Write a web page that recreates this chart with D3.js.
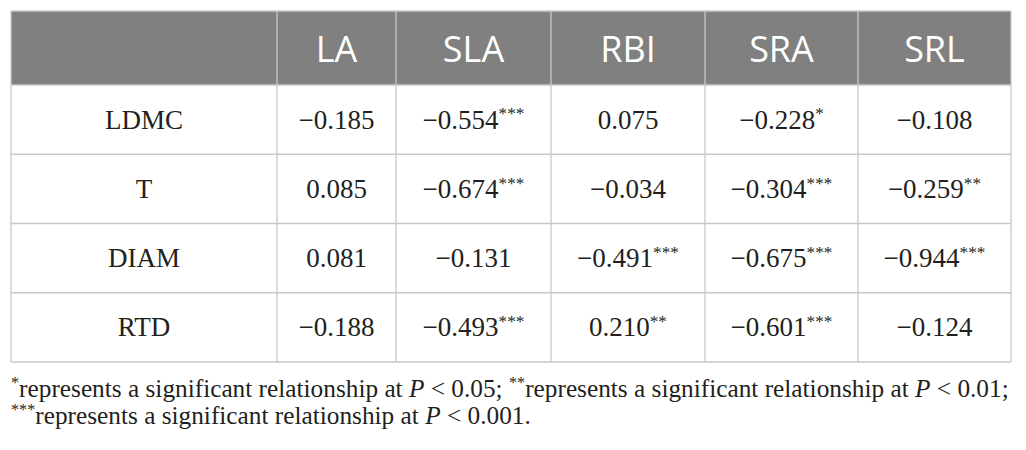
<!DOCTYPE html>
<html>
<head>
<meta charset="utf-8">
<script src="https://cdn.jsdelivr.net/npm/d3@7"></script>
<style>
  html, body { margin: 0; padding: 0; background: #ffffff; }
  svg { display: block; }
</style>
</head>
<body>
<svg id="chart" width="1026" height="450"></svg>
<script>
// ---- data ----
const columns = ["LA", "SLA", "RBI", "SRA", "SRL"];
const rows = ["LDMC", "T", "DIAM", "RTD"];
const LDMC = [-0.185, -0.554, 0.075, -0.228, -0.108];
const T    = [0.085, -0.674, -0.034, -0.304, -0.259];
const DIAM = [0.081, -0.131, -0.491, -0.675, -0.944];
const RTD  = [-0.188, -0.493, 0.210, -0.601, -0.124];
// significance stars count per cell
const LDMC_sig = [0, 3, 0, 1, 0];
const T_sig    = [0, 3, 0, 3, 2];
const DIAM_sig = [0, 0, 3, 3, 3];
const RTD_sig  = [0, 3, 2, 3, 0];
const footnoteLines = [
  [["*", "sup"], ["represents a significant relationship at ", ""], ["P", "it"], [" < 0.05; ", ""],
   ["**", "sup"], ["represents a significant relationship at ", ""], ["P", "it"], [" < 0.01;", ""]],
  [["***", "sup"], ["represents a significant relationship at ", ""], ["P", "it"], [" < 0.001.", ""]]
];

const values = [LDMC, T, DIAM, RTD];
const sigs = [LDMC_sig, T_sig, DIAM_sig, RTD_sig];

// ---- layout ----
const leftX = 11, topY = 11, headerH = 74, tableBottom = 362;
const firstColW = 266;
const colWidths = [119, 155, 154, 153, 153];
const gridColor = "#c8c8c8";
const headFill = "#808080";
const serif = "'Liberation Serif', 'Times New Roman', serif";
const sans = "'Open Sans', 'Noto Sans', sans-serif";
const bodySize = 27, headSize = 36, noteSize = 25.3;

const svg = d3.select("#chart");

// column edges via scale
const edges = [leftX + firstColW];
colWidths.forEach((w, i) => edges.push(edges[i] + w));
const rightX = edges[edges.length - 1];
const xCol = d3.scaleOrdinal().domain(columns).range(edges.slice(0, -1));
const wCol = d3.scaleOrdinal().domain(columns).range(colWidths);
const yRow = d3.scaleBand().domain(rows).range([topY + headerH, tableBottom]).padding(0);

const fmt = d3.format(".3f");

// header background
svg.append("rect")
  .attr("x", leftX).attr("y", topY)
  .attr("width", rightX - leftX).attr("height", headerH)
  .attr("fill", headFill);

// header labels
svg.append("g").selectAll("text").data(columns).join("text")
  .attr("x", d => xCol(d) + wCol(d) / 2)
  .attr("y", topY + headerH / 2 + 14)
  .attr("text-anchor", "middle")
  .attr("font-family", sans)
  .attr("font-size", headSize)
  .attr("fill", "#ffffff")
  .text(d => d);

// row labels
svg.append("g").selectAll("text").data(rows).join("text")
  .attr("x", leftX + firstColW / 2)
  .attr("y", d => yRow(d) + yRow.bandwidth() / 2 + bodySize * 0.66 / 2)
  .attr("text-anchor", "middle")
  .attr("font-family", serif)
  .attr("font-size", bodySize)
  .attr("fill", "#231f20")
  .text(d => d);

// cells
const cells = [];
rows.forEach((r, i) => columns.forEach((c, j) => cells.push({ r, c, v: values[i][j], s: sigs[i][j] })));
const cellText = svg.append("g").selectAll("text").data(cells).join("text")
  .attr("x", d => xCol(d.c) + wCol(d.c) / 2)
  .attr("y", d => yRow(d.r) + yRow.bandwidth() / 2 + bodySize * 0.66 / 2)
  .attr("text-anchor", "middle")
  .attr("font-family", serif)
  .attr("font-size", bodySize)
  .attr("fill", "#231f20");
cellText.append("tspan").text(d => fmt(d.v));
cellText.filter(d => d.s > 0).append("tspan")
  .attr("font-size", bodySize * 0.64)
  .attr("dy", -bodySize * 0.34)
  .text(d => "*".repeat(d.s));

// grid lines
const grid = svg.append("g").attr("stroke", gridColor).attr("stroke-width", 1.3).attr("fill", "none");
const hLines = [topY, topY + headerH].concat(rows.map(r => yRow(r) + yRow.bandwidth()));
grid.selectAll("line.h").data(hLines).join("line").attr("class", "h")
  .attr("x1", leftX).attr("x2", rightX).attr("y1", d => d).attr("y2", d => d);
const vLines = [leftX].concat(edges);
grid.selectAll("line.v").data(vLines).join("line").attr("class", "v")
  .attr("x1", d => d).attr("x2", d => d).attr("y1", topY).attr("y2", tableBottom);

// footnote
const noteBase = [397, 424];
footnoteLines.forEach((parts, li) => {
  const t = svg.append("text")
    .attr("x", leftX)
    .attr("y", noteBase[li])
    .attr("font-family", serif)
    .attr("font-size", noteSize)
    .attr("fill", "#231f20");
  let raised = false;
  parts.forEach(([str, kind]) => {
    const ts = t.append("tspan").text(str);
    if (kind === "sup") {
      ts.attr("font-size", noteSize * 0.64).attr("dy", -noteSize * 0.34);
      raised = true;
    } else {
      if (kind === "it") ts.attr("font-style", "italic");
      if (raised) { ts.attr("dy", noteSize * 0.34); raised = false; }
    }
  });
});
</script>
</body>
</html>
